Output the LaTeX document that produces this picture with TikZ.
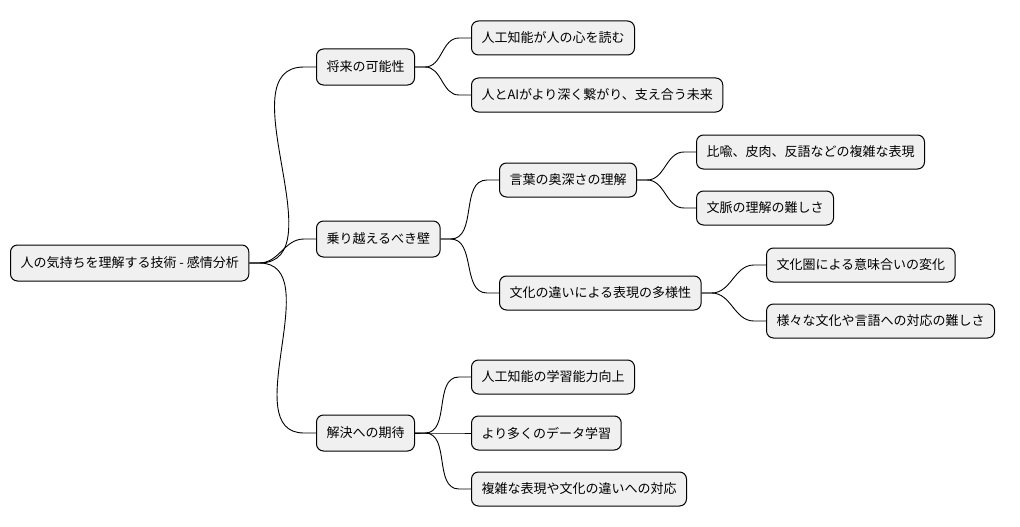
\documentclass[tikz,border=0pt]{standalone}
\usepackage{fontspec}
\setmainfont{Noto Sans CJK JP}
\begin{document}
\begin{tikzpicture}[x=1pt,y=-1pt,
  box/.style={draw=black,line width=1pt,fill=black!6,rounded corners=7pt,anchor=west,
    inner xsep=10pt,inner ysep=0pt,minimum height=34pt,font=\fontsize{13}{15}\selectfont},
  link/.style={line width=0.9pt}]
\useasboundingbox (0,0) rectangle (1020,527);
\node[box,minimum height=36pt] (r) at (10,263) {人の気持ちを理解する技術 - 感情分析};
\node[box,minimum height=36pt] (a) at (316,67) {将来の可能性};
\node[box,minimum height=36pt] (b) at (316,239) {乗り越えるべき壁};
\node[box,minimum height=36pt] (c) at (316,433) {解決への期待};
\node[box] (a1) at (471,38) {人工知能が人の心を読む};
\node[box] (a2) at (471,95) {人とAIがより深く繋がり、支え合う未来};
\node[box] (b1) at (499,180) {言葉の奥深さの理解};
\node[box] (b2) at (499,293) {文化の違いによる表現の多様性};
\node[box] (b11) at (696,152) {比喩、皮肉、反語などの複雑な表現};
\node[box] (b12) at (696,208) {文脈の理解の難しさ};
\node[box] (b21) at (766,265) {文化圏による意味合いの変化};
\node[box] (b22) at (766,321) {様々な文化や言語への対応の難しさ};
\node[box] (c1) at (471,377) {人工知能の学習能力向上};
\node[box] (c2) at (471,433) {より多くのデータ学習};
\node[box] (c3) at (471,489) {複雑な表現や文化の違いへの対応};
\foreach \p/\c in {r/a,r/b,r/c,a/a1,a/a2,b/b1,b/b2,b1/b11,b1/b12,b2/b21,b2/b22,c/c1,c/c2,c/c3}
  \draw[link] (\p.east) -- ++(10,0) to[out=0,in=180] ([xshift=-12pt]\c.west) -- (\c.west);
\end{tikzpicture}
\end{document}
